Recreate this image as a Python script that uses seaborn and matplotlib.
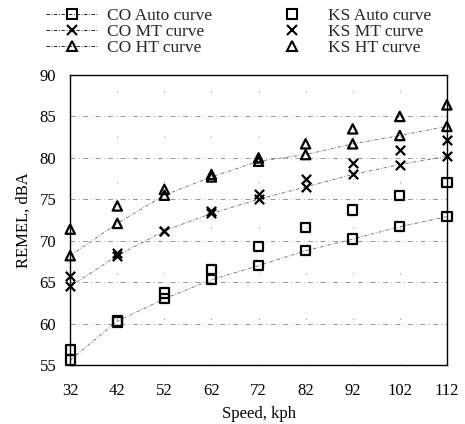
import numpy as np
import pandas as pd
import matplotlib
matplotlib.use('Agg')
import matplotlib.pyplot as plt
import seaborn as sns
from matplotlib.lines import Line2D

# Speeds (kph)
speeds = [32, 42, 52, 62, 72, 82, 92, 102, 112]

# CO curves
co_auto = [55.6, 60.3, 63.0, 65.3, 67.0, 68.8, 70.2, 71.7, 72.9]
co_mt = [64.5, 68.2, 71.2, 73.3, 75.0, 76.5, 78.0, 79.2, 80.2]
co_ht = [68.2, 72.1, 75.5, 77.7, 79.6, 80.4, 81.7, 82.7, 83.8]

# KS points
ks_auto = [56.8, 60.2, 63.7, 66.5, 69.3, 71.6, 73.7, 75.5, 77.0]
ks_mt = [65.7, 68.5, 71.2, 73.6, 75.7, 77.5, 79.4, 80.9, 82.2]
ks_ht = [71.4, 74.2, 76.2, 78.0, 80.0, 81.7, 83.5, 85.0, 86.4]

labels_co = ['CO Auto curve', 'CO MT curve', 'CO HT curve']
labels_ks = ['KS Auto curve', 'KS MT curve', 'KS HT curve']
markers = ['s', 'x', '^']


def build_frame(series, names):
    rows = []
    for vals, name in zip(series, names):
        for s, v in zip(speeds, vals):
            rows.append({'Speed': s, 'REMEL': v, 'Series': name})
    return pd.DataFrame(rows)


def plot_chart():
    sns.set_theme(style='white')
    plt.rcParams['font.family'] = ['Liberation Serif', 'DejaVu Serif']

    fig = plt.figure(figsize=(4.65, 4.24), dpi=100)
    ax = fig.add_axes([0.151, 0.139, 0.810, 0.684])

    df_co = build_frame([co_auto, co_mt, co_ht], labels_co)
    df_ks = build_frame([ks_auto, ks_mt, ks_ht], labels_ks)

    # CO curves: dash-dot lines with markers
    for name, m in zip(labels_co, markers):
        sub = df_co[df_co['Series'] == name]
        sns.lineplot(data=sub, x='Speed', y='REMEL', ax=ax, color='#666666',
                     linestyle=(0, (4, 2, 1, 2)), linewidth=0.6, legend=False)
        sns.scatterplot(data=sub, x='Speed', y='REMEL', ax=ax, marker=m,
                        s=45, facecolor='none' if m != 'x' else 'black',
                        edgecolor='black', linewidth=1.6, legend=False,
                        zorder=3, clip_on=False)

    # KS points
    for name, m in zip(labels_ks, markers):
        sub = df_ks[df_ks['Series'] == name]
        sns.scatterplot(data=sub, x='Speed', y='REMEL', ax=ax, marker=m,
                        s=45, facecolor='none' if m != 'x' else 'black',
                        edgecolor='black', linewidth=1.6, legend=False,
                        zorder=3, clip_on=False)

    ax.set_xlim(32, 112)
    ax.set_ylim(55, 90)
    ax.set_xticks(speeds)
    ax.set_yticks(range(55, 91, 5))
    ax.grid(axis='y', color='#888888', linestyle=(0, (6, 4, 1, 4)), linewidth=0.6)
    for s in speeds[1:-1]:
        ax.axvline(s, color='#999999', linestyle=(0, (1, 40)), linewidth=0.8, zorder=0)
    for sp in ax.spines.values():
        sp.set_color('black')
        sp.set_linewidth(1.0)
    ax.tick_params(axis='x', labelsize=12, length=0, pad=13, colors='black')
    ax.tick_params(axis='y', labelsize=12, length=0, pad=10, colors='black')
    ax.set_xlabel('Speed, kph', fontsize=12, color='black', labelpad=5)
    ax.set_ylabel('REMEL, dBA', fontsize=12, color='black', labelpad=6)

    handles = []
    for name, m in zip(labels_co, markers):
        handles.append(Line2D([], [], color='black', linestyle=(0, (4, 2, 1, 2)),
                              linewidth=0.6, marker=m, markersize=7,
                              markerfacecolor='none', markeredgecolor='black',
                              markeredgewidth=1.5, label=name))
    for name, m in zip(labels_ks, markers):
        handles.append(Line2D([], [], color='black', linestyle='none',
                              marker=m, markersize=7,
                              markerfacecolor='none', markeredgecolor='black',
                              markeredgewidth=1.5, label=name))
    fig.legend(handles=handles, ncol=2, loc='upper left',
               bbox_to_anchor=(0.065, 1.018), frameon=False, fontsize=12.5,
               handlelength=3.0, labelspacing=0.0, columnspacing=3.1,
               handletextpad=0.55)

    fig.savefig('out.png', dpi=100)


def main():
    plot_chart()


if __name__ == "__main__":
    main()
